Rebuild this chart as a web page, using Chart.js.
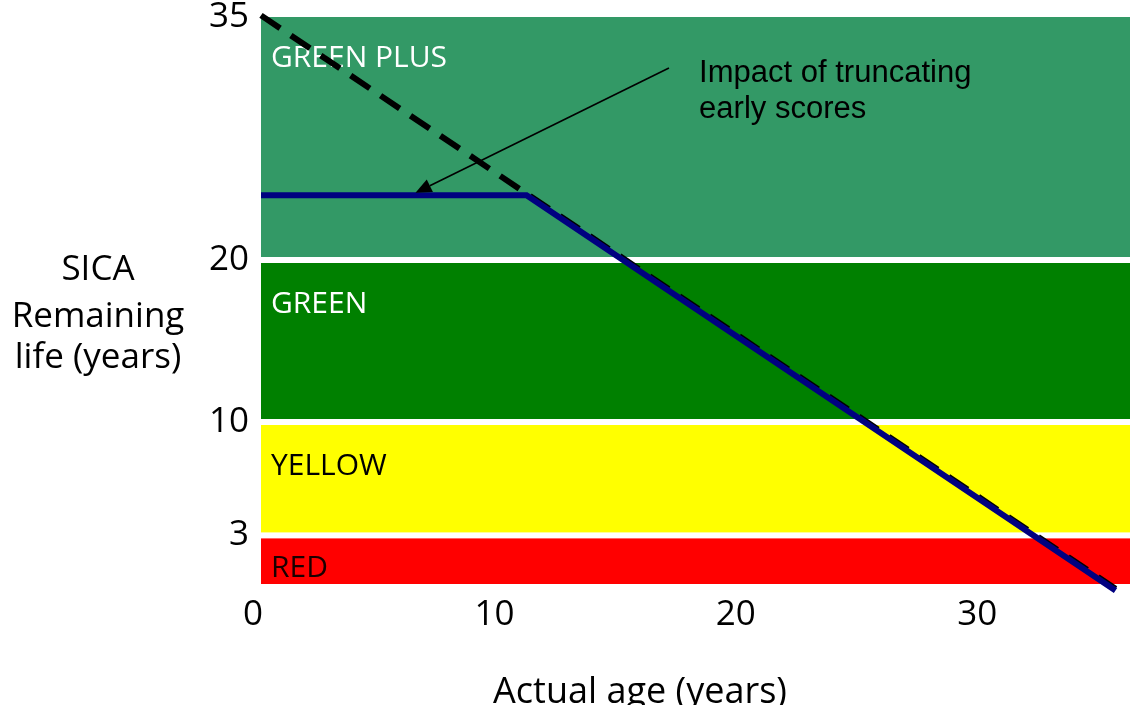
<!DOCTYPE html>
<html>
<head>
<meta charset="utf-8">
<script src="https://cdn.jsdelivr.net/npm/chart.js@4.4.1/dist/chart.umd.min.js"></script>
<style>
  html, body { margin: 0; padding: 0; background: #ffffff; }
  #wrap { width: 1130px; height: 705px; }
</style>
</head>
<body>
<div id="wrap"><canvas id="c" width="1130" height="705"></canvas></div>
<script>
// ---------- data ----------
const xTicks = [0, 10, 20, 30];
const yTicks = [3, 10, 20, 35];

const bandNames = ['RED', 'YELLOW', 'GREEN', 'GREEN PLUS'];
const bandLow   = [0, 3, 10, 20];
const bandHigh  = [3, 10, 20, 35];

// remaining life with early scores truncated
const truncX = [0, 11, 35.4];
const truncY = [24, 24, -0.4];
// remaining life without truncation (dashed)
const fullX = [0, 35.4];
const fullY = [35.1, -0.3];

const yTitleLines = ['SICA', 'Remaining', 'life (years)'];
const xTitle = 'Actual age (years)';
const noteLines = ['Impact of truncating', 'early scores'];

// ---------- styles / placement (not data) ----------
const bandFill = ['#ff0000', '#ffff00', '#008000', '#339966'];
const bandText = ['#1a0000', '#000000', '#ffffff', '#ffffff'];
const noteAnchor = { x: 18.15, y: 31.0 };     // text start (data units)
const arrowFrom  = { x: 16.9, y: 31.85 };
const arrowTo    = { x: 6.4,  y: 24.15 };

const FONT = '"Open Sans", "Noto Sans", sans-serif';

const toPts = (xs, ys) => xs.map((x, i) => ({ x: x, y: ys[i] }));

const bandsPlugin = {
  id: 'bands',
  beforeDatasetsDraw(chart) {
    const { ctx, chartArea } = chart;
    const ys = chart.scales.y;
    ctx.save();
    for (let i = 0; i < bandNames.length; i++) {
      const top = ys.getPixelForValue(bandHigh[i]);
      const bot = ys.getPixelForValue(bandLow[i]);
      ctx.fillStyle = bandFill[i];
      ctx.fillRect(chartArea.left, top, chartArea.right - chartArea.left, bot - top);
    }
    // white separators between bands
    ctx.fillStyle = '#ffffff';
    for (let i = 1; i < bandNames.length; i++) {
      const p = ys.getPixelForValue(bandLow[i]);
      ctx.fillRect(chartArea.left, p - 3, chartArea.right - chartArea.left, 6);
    }
    // band labels
    ctx.font = '30px ' + FONT;
    ctx.textAlign = 'left';
    ctx.textBaseline = 'alphabetic';
    for (let i = 0; i < bandNames.length; i++) {
      const top = ys.getPixelForValue(bandHigh[i]) + (i === bandNames.length - 1 ? 0 : 3);
      const bot = ys.getPixelForValue(bandLow[i]);
      const base = Math.min(top + 50, bot - 7);
      ctx.fillStyle = bandText[i];
      ctx.fillText(bandNames[i], chartArea.left + 10, base);
    }
    ctx.restore();
  },
  afterDatasetsDraw(chart) {
    const { ctx } = chart;
    const xs = chart.scales.x, ys = chart.scales.y;
    ctx.save();
    // annotation arrow
    const x1 = xs.getPixelForValue(arrowFrom.x), y1 = ys.getPixelForValue(arrowFrom.y);
    const x2 = xs.getPixelForValue(arrowTo.x),   y2 = ys.getPixelForValue(arrowTo.y);
    const ang = Math.atan2(y2 - y1, x2 - x1);
    const headLen = 16, headW = 7;
    const bx = x2 - headLen * Math.cos(ang), by = y2 - headLen * Math.sin(ang);
    ctx.strokeStyle = '#000000';
    ctx.lineWidth = 1.6;
    ctx.beginPath();
    ctx.moveTo(x1, y1);
    ctx.lineTo(bx, by);
    ctx.stroke();
    ctx.fillStyle = '#000000';
    ctx.beginPath();
    ctx.moveTo(x2, y2);
    ctx.lineTo(bx + headW * Math.sin(ang), by - headW * Math.cos(ang));
    ctx.lineTo(bx - headW * Math.sin(ang), by + headW * Math.cos(ang));
    ctx.closePath();
    ctx.fill();
    // annotation text
    ctx.font = '31px "Liberation Sans", Arial, sans-serif';
    ctx.textAlign = 'left';
    ctx.textBaseline = 'alphabetic';
    const nx = xs.getPixelForValue(noteAnchor.x), ny = ys.getPixelForValue(noteAnchor.y);
    noteLines.forEach((t, i) => ctx.fillText(t, nx, ny + i * 36));
    ctx.restore();
  },
  afterDraw(chart) {
    const { ctx } = chart;
    ctx.save();
    ctx.fillStyle = '#000000';
    ctx.font = '35px ' + FONT;
    ctx.textAlign = 'center';
    ctx.textBaseline = 'alphabetic';
    // y-axis title, horizontal, three lines
    const yBases = [280, 327, 368];
    yTitleLines.forEach((t, i) => ctx.fillText(t, 98, yBases[i]));
    // x-axis title
    ctx.font = '36px ' + FONT;
    ctx.fillText(xTitle, 640, 703);
    ctx.restore();
  }
};

const zeroPad = (s) => { s.paddingLeft = 0; s.paddingRight = 0; s.paddingTop = 0; s.paddingBottom = 0; };

new Chart(document.getElementById('c'), {
  type: 'line',
  data: {
    datasets: [
      {
        label: 'Truncated',
        data: toPts(truncX, truncY),
        borderColor: '#000080',
        borderWidth: 6,
        pointRadius: 0,
        tension: 0,
        borderCapStyle: 'butt',
        borderJoinStyle: 'miter',
        fill: false,
        clip: false,
        order: 0
      },
      {
        label: 'Untruncated',
        data: toPts(fullX, fullY),
        borderColor: '#000000',
        borderWidth: 6,
        borderDash: [23, 13],
        pointRadius: 0,
        tension: 0,
        borderCapStyle: 'butt',
        fill: false,
        clip: false,
        order: 1
      }
    ]
  },
  options: {
    responsive: false,
    animation: false,
    events: [],
    layout: { padding: { top: 17, right: 0, left: 0, bottom: 0 } },
    plugins: { legend: { display: false }, tooltip: { enabled: false }, title: { display: false } },
    scales: {
      x: {
        type: 'linear',
        min: 0,
        max: 36,
        grid: { display: false, drawTicks: false },
        border: { display: false },
        ticks: { color: '#000000', font: { family: FONT, size: 35 }, padding: 10, maxRotation: 0, labelOffset: -8 },
        afterBuildTicks: (s) => { s.ticks = xTicks.map(v => ({ value: v })); },
        afterFit: (s) => { s.height = 121; zeroPad(s); }
      },
      y: {
        type: 'linear',
        min: 0,
        max: 35,
        grid: { display: false, drawTicks: false },
        border: { display: false },
        ticks: { color: '#000000', font: { family: FONT, size: 35 }, padding: 12 },
        afterBuildTicks: (s) => { s.ticks = yTicks.map(v => ({ value: v })); },
        afterFit: (s) => { s.width = 261; zeroPad(s); }
      }
    }
  },
  plugins: [bandsPlugin]
});
</script>
</body>
</html>
